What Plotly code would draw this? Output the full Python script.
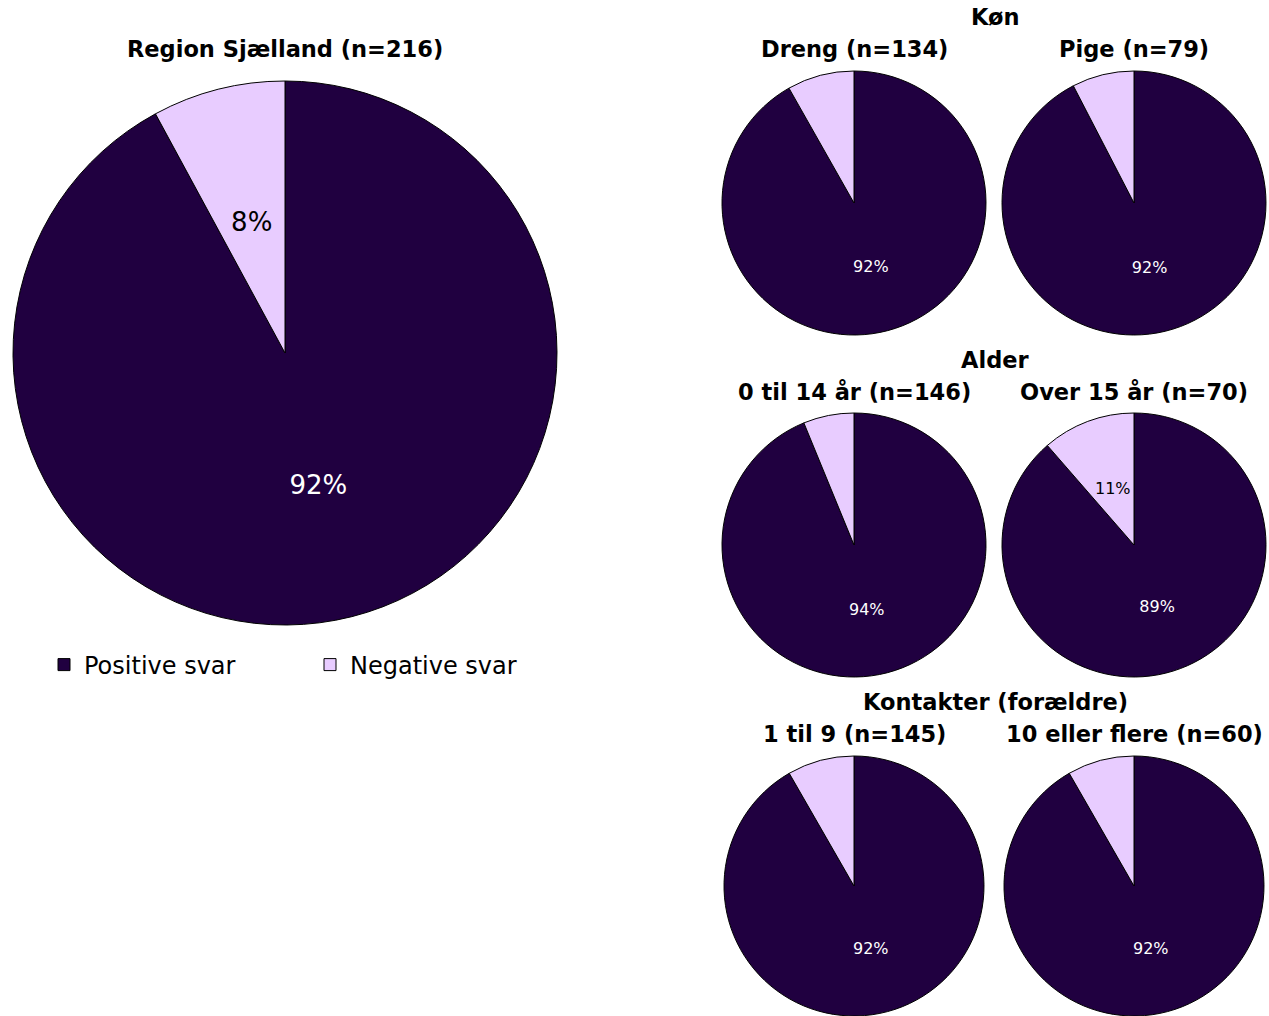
import plotly.graph_objects as go

W, H = 1269, 1016

labels = ["Positive svar", "Negative svar"]
colors = ["#200040", "#E8CCFF"]

main_title = "Region Sjælland (n=216)"
main_values = [92.1, 7.9]

group_titles = ["Køn", "Alder", "Kontakter (forældre)"]
sub_titles = [
    ["Dreng (n=134)", "Pige (n=79)"],
    ["0 til 14 år (n=146)", "Over 15 år (n=70)"],
    ["1 til 9 (n=145)", "10 eller flere (n=60)"],
]
sub_values = [
    [[91.8, 8.2], [92.4, 7.6]],
    [[93.8, 6.2], [88.6, 11.4]],
    [[91.7, 8.3], [91.7, 8.3]],
]
# whether the small "Negative svar" slice carries a label
sub_show_neg = [
    [False, False],
    [False, True],
    [False, False],
]

FONT = "Verdana, DejaVu Sans, sans-serif"
LBL_SCALE = 0.62  # radius of inner label ring relative to pie radius


def px_dom(cx, cy, rad):
    # pixel circle (top-left origin) -> paper domain
    return dict(x=[(cx - rad) / W, (cx + rad) / W],
                y=[1 - (cy + rad) / H, 1 - (cy - rad) / H])


fig = go.Figure()


def add_pie(values, cx, cy, rad, size, show_neg, legend=False):
    common = dict(labels=labels, values=values, sort=False,
                  direction="clockwise", rotation=0,
                  textposition="inside", insidetextorientation="horizontal")
    fig.add_trace(go.Pie(
        **common,
        marker=dict(colors=colors, line=dict(color="black", width=1)),
        texttemplate=["%{percent:.0%}", ""],
        insidetextfont=dict(color=["white", "black"], size=size, family=FONT),
        domain=px_dom(cx, cy, rad), showlegend=legend,
        hoverinfo="label+percent",
    ))
    if show_neg:
        # transparent inner ring used only to place the small-slice label
        fig.add_trace(go.Pie(
            **common,
            marker=dict(colors=["rgba(0,0,0,0)", "rgba(0,0,0,0)"],
                        line=dict(width=0)),
            texttemplate=["", "%{percent:.0%}"],
            insidetextfont=dict(color=["white", "black"], size=size, family=FONT),
            domain=px_dom(cx, cy, rad * LBL_SCALE), showlegend=False,
            hoverinfo="skip",
        ))


add_pie(main_values, 285, 353, 272, 26, True, legend=True)

centers_x = [854, 1134]
centers_y = [203, 545, 886]
for r in range(3):
    for c in range(2):
        rad = 132 if r < 2 else 130
        add_pie(sub_values[r][c], centers_x[c], centers_y[r], rad, 16,
                sub_show_neg[r][c])

ann = []


def add_text(x, y, text, size=22.5):
    ann.append(dict(
        x=x / W, y=1 - y / H, xref="paper", yref="paper",
        text=f"<b>{text}</b>", showarrow=False,
        font=dict(size=size, family=FONT, color="black"),
        xanchor="center", yanchor="middle",
    ))


add_text(285, 49, main_title)
group_y = [17, 360, 702]
sub_y = [49, 392, 734]
for r in range(3):
    add_text(995, group_y[r], group_titles[r])
    for c in range(2):
        add_text(centers_x[c], sub_y[r], sub_titles[r][c])

fig.update_layout(
    width=W, height=H,
    margin=dict(l=0, r=0, t=0, b=0),
    paper_bgcolor="white", plot_bgcolor="white",
    font=dict(family=FONT, color="black"),
    annotations=ann,
    legend=dict(
        orientation="h", x=44 / W, y=1 - 665 / H, xanchor="left", yanchor="middle",
        font=dict(size=24, family=FONT, color="black"),
        entrywidth=221, entrywidthmode="pixels",
        traceorder="normal",
    ),
)

fig.write_html(
    "out.html",
    config={"displayModeBar": False},
    post_script="document.body.style.margin='0';document.body.style.overflow='hidden';",
)
